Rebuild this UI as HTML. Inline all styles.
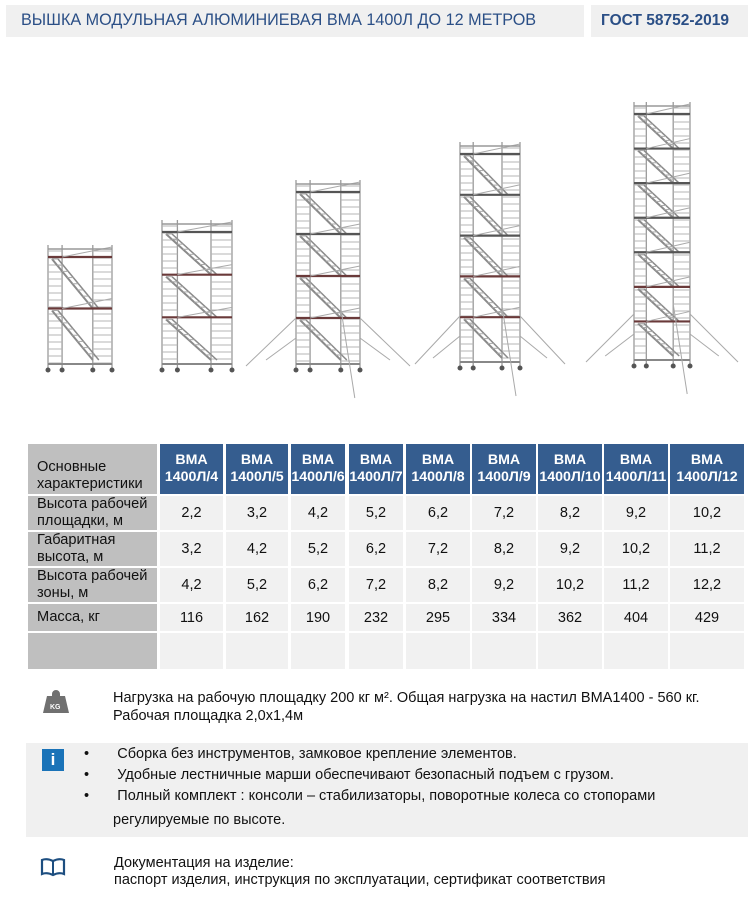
<!DOCTYPE html>
<html><head><meta charset="utf-8">
<style>
body{margin:0;width:753px;height:907px;background:#fff;font-family:"Liberation Sans","Noto Sans CJK SC",sans-serif;position:relative;overflow:hidden}
.a{position:absolute}
.band{background:#f0f0f0}
.t{color:#2b4f86;font-size:16.2px}
.cell{position:absolute;background:#f1f1f1;display:flex;align-items:center;justify-content:center;font-size:14.5px;color:#111}
.lab{position:absolute;background:#bfbfbf;font-size:14.6px;color:#111;line-height:17px;padding-left:9px;box-sizing:border-box;display:flex;align-items:center}
.hd{position:absolute;background:#355d8f;color:#fff;font-weight:bold;font-size:14.2px;line-height:17px;text-align:center;display:flex;align-items:center;justify-content:center;white-space:nowrap;overflow:hidden}
.tx{font-size:14.5px;color:#111;line-height:18px}
</style></head><body>
<div class="a band" style="left:6px;top:5px;width:578px;height:32px"></div>
<div class="a t" style="left:21px;top:11px">ВЫШКА МОДУЛЬНАЯ АЛЮМИНИЕВАЯ ВМА 1400Л ДО 12 МЕТРОВ</div>
<div class="a band" style="left:591px;top:5px;width:157px;height:32px"></div>
<div class="a t" style="left:601px;top:12px;font-weight:bold;font-size:15.5px">ГОСТ 58752-2019</div>

<svg class="a" style="left:0;top:0" width="753" height="420" id="sv"></svg>
<script>
var s='',sv=document.getElementById('sv');
function ln(x1,y1,x2,y2,c,w){s+='<line x1="'+x1+'" y1="'+y1+'" x2="'+x2+'" y2="'+y2+'" stroke="'+(c||'#a9a9a9')+'" stroke-width="'+(w||1)+'"/>';}
function tower(L,R,T,B,out,n){
 var w=R-L,b1=L+w*0.22,b2=R-w*0.3;
 [L,b1,b2,R].forEach(function(x){ln(x,T,x,B,'#9a9a9a',1.3)});
 for(var y=T+6;y<B-4;y+=7){ln(L,y,b1,y,'#b5b5b5');ln(b2,y,R,y,'#b5b5b5');}
 var lev=(B-T-20)/n;
 for(var i=1;i<=n;i++){var y=T+12+(i-1)*lev;
   ln(L,y,R,y,i>n-2?'#6a3a3a':'#555',2.2);
   ln(b1,y,R,y-10,'#aaa');
   var y2=y+lev; ln(L+4,y+2,b2,Math.min(y2,B-6),'#8a8a8a',2);ln(L+10,y+2,b2+6,Math.min(y2,B-6),'#8a8a8a',1.5);
   for(var k=0;k<8;k++){var f=k/8;ln(L+4+(b2-L-4)*f,y+2+(Math.min(y2,B-6)-y-2)*f,L+10+(b2+6-L-10)*f,y+2+(Math.min(y2,B-6)-y-2)*f,'#aaa');}
 }
 ln(L,T+4,R,T+4,'#999',1.5);
 ln(L,B-4,R,B-4,'#888',2);
 [L,b1,b2,R].forEach(function(x){s+='<circle cx="'+x+'" cy="'+(B+2)+'" r="2.5" fill="#555"/>'});
 if(out){var m=B-50;ln(L,m,L-out,B-2);ln(R,m,R+out,B-2);ln(L,m+20,L-out*0.6,B-8);ln(R,m+20,R+out*0.6,B-8);ln(b2,B-60,b2+14,B+30);}
}
tower(48,112,245,368,0,2);
tower(162,232,220,368,0,3);
tower(296,360,180,368,50,4);
tower(460,520,142,366,45,5);
tower(634,690,102,364,48,7);
sv.innerHTML=s;
</script>

<div class="lab" style="left:28px;top:444px;width:129px;height:50px;align-items:flex-end;padding-bottom:1px">Основные<br>характеристики</div>
<div class="lab" style="left:28px;top:496px;width:129px;height:34px">Высота рабочей<br>площадки, м</div>
<div class="lab" style="left:28px;top:532px;width:129px;height:34px">Габаритная<br>высота, м</div>
<div class="lab" style="left:28px;top:568px;width:129px;height:34px">Высота рабочей<br>зоны, м</div>
<div class="lab" style="left:28px;top:604px;width:129px;height:27px">Масса, кг</div>
<div class="lab" style="left:28px;top:633px;width:129px;height:36px"></div>
<div id="tb"></div>
<script>
var cols=[[160,63],[226,62],[291,54],[349,54],[406,64],[472,64],[538,64],[604,64],[670,74]];
var names=['4','5','6','7','8','9','10','11','12'];
var r1=['2,2','3,2','4,2','5,2','6,2','7,2','8,2','9,2','10,2'];
var r2=['3,2','4,2','5,2','6,2','7,2','8,2','9,2','10,2','11,2'];
var r3=['4,2','5,2','6,2','7,2','8,2','9,2','10,2','11,2','12,2'];
var r4=['116','162','190','232','295','334','362','404','429'];
var rows=[[496,34,r1],[532,34,r2],[568,34,r3],[604,27,r4],[633,36,null]];
var h='';
cols.forEach(function(c,i){
 h+='<div class="hd" style="left:'+c[0]+'px;top:444px;width:'+c[1]+'px;height:50px">ВМА<br>1400Л/'+names[i]+'</div>';
 rows.forEach(function(r){h+='<div class="cell" style="left:'+c[0]+'px;top:'+r[0]+'px;width:'+c[1]+'px;height:'+r[1]+'px">'+(r[2]?r[2][i]:'')+'</div>';});
});
document.getElementById('tb').innerHTML=h;
</script>

<svg class="a" style="left:41px;top:690px" width="30" height="24"><path d="M11 4 a4 4 0 0 1 8 0 L19 6 L24 6 L28 23 L2 23 L6 6 L11 6Z" fill="#707070"/><text x="9" y="19" font-size="7" fill="#fff" font-family="Liberation Sans" font-weight="bold">KG</text></svg>
<div class="a tx" style="left:113px;top:689px">Нагрузка на рабочую площадку 200 кг м². Общая нагрузка на настил ВМА1400 - 560 кг.<br>Рабочая площадка 2,0х1,4м</div>

<div class="a" style="left:26px;top:743px;width:722px;height:94px;background:#f0f0f0"></div>
<div class="a" style="left:42px;top:749px;width:22px;height:22px;background:#1a73b8;color:#fff;font-weight:bold;font-size:17px;text-align:center;line-height:22px">i</div>
<div class="a tx" style="left:84px;top:744px;line-height:21px">
•&nbsp;&nbsp;&nbsp;&nbsp;&nbsp;&nbsp;&nbsp;Сборка без инструментов, замковое крепление элементов.<br>
•&nbsp;&nbsp;&nbsp;&nbsp;&nbsp;&nbsp;&nbsp;Удобные лестничные марши обеспечивают безопасный подъем с грузом.<br>
•&nbsp;&nbsp;&nbsp;&nbsp;&nbsp;&nbsp;&nbsp;Полный комплект : консоли – стабилизаторы, поворотные колеса со стопорами</div>
<div class="a tx" style="left:113px;top:811px">регулируемые по высоте.</div>

<svg class="a" style="left:40px;top:857px" width="26" height="20"><path d="M2 3 Q7 1 13 4 Q19 1 24 3 L24 17 Q19 15 13 18 Q7 15 2 17Z" fill="#fff" stroke="#1d4e80" stroke-width="2.2"/><line x1="13" y1="4" x2="13" y2="18" stroke="#1d4e80" stroke-width="2"/></svg>
<div class="a tx" style="left:114px;top:855px;line-height:17px">Документация на изделие:<br>паспорт изделия, инструкция по эксплуатации, сертификат соответствия</div>
</body></html>
